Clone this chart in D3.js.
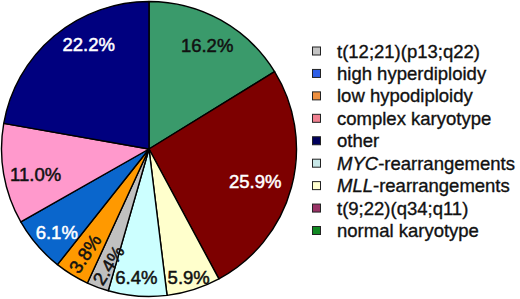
<!DOCTYPE html>
<html><head><meta charset="utf-8">
<script src="https://cdn.jsdelivr.net/npm/d3@7"></script>
<style>body{margin:0;background:#fff}svg{display:block}</style>
</head><body><svg id="c" width="520" height="299"></svg>
<script>
// Data (pie order, clockwise from 12 o'clock)
const sliceNames = ["normal karyotype","t(9;22)(q34;q11)","MLL-rearrangements","MYC-rearrangements","t(12;21)(p13;q22)","low hypodiploidy","high hyperdiploidy","complex karyotype","other"];
const sliceValues = [16.2, 25.9, 5.9, 6.4, 2.4, 3.8, 6.1, 11.0, 22.2];
const sliceLabels = ["16.2%","25.9%","5.9%","6.4%","2.4%","3.8%","6.1%","11.0%","22.2%"];
const sliceColors = ["#3a9a6b","#7d0000","#ffffcc","#ccffff","#c0c0c0","#ff9900","#0a66cc","#ff99cc","#00007f"];
const labelColors = ["#111","#fff","#111","#111","#111","#111","#fff","#111","#fff"];
// legend order
const legendNames = ["t(12;21)(p13;q22)","high hyperdiploidy","low hypodiploidy","complex karyotype","other","MYC-rearrangements","MLL-rearrangements","t(9;22)(q34;q11)","normal karyotype"];
const legendColors = ["#c4c4c4","#3060e8","#ee9040","#f08090","#00005c","#c8e8e8","#ffffd0","#993366","#118822"];
const legendItalic = [null,null,null,null,null,"MYC","MLL",null,null];
// label tweaks (offset from centroid, rotation)
const labelDx = [4,-1,6,-4,-2,-6,-8,-4,11];
const labelDy = [-7,4,23,18,12,10,11,6,-20];
const labelRot = [0,0,0,0,-58,-56,0,0,0];

const svg = d3.select("#c");
const cx = 149, cy = 149, R = 147.5;
const g = svg.append("g").attr("transform", `translate(${cx},${cy})`);
const pie = d3.pie().sort(null).value(d => d)(sliceValues);
const arc = d3.arc().innerRadius(0).outerRadius(R);
const labelArc = d3.arc().innerRadius(111).outerRadius(111);

g.selectAll("path").data(pie).join("path")
  .attr("d", arc).attr("fill", (d,i) => sliceColors[i])
  .attr("stroke", "#000").attr("stroke-width", 1.4).attr("stroke-linejoin","round");

g.selectAll("text.lbl").data(pie).join("text").attr("class","lbl")
  .attr("transform", (d,i) => {
    const [x,y] = labelArc.centroid(d);
    return `translate(${x+labelDx[i]},${y+labelDy[i]}) rotate(${labelRot[i]})`;
  })
  .attr("text-anchor","middle").attr("dy","0.36em")
  .attr("font-family","'Liberation Sans', Arial, sans-serif").attr("font-size",18.5)
  .attr("fill",(d,i)=>labelColors[i])
  .attr("stroke",(d,i)=>labelColors[i]).attr("stroke-width",0.5)
  .text((d,i)=>sliceLabels[i]);

const lg = svg.append("g");
const ly = d3.scaleLinear().domain([0, legendNames.length-1]).range([51, 230.5]);
legendNames.forEach((n,i) => {
  lg.append("rect").attr("x",312.5).attr("y",ly(i)-4).attr("width",8).attr("height",8)
    .attr("fill",legendColors[i]).attr("stroke","#222").attr("stroke-width",1);
  const t = lg.append("text").attr("x",337).attr("y",ly(i)+6.5)
    .attr("font-family","'Liberation Sans', Arial, sans-serif").attr("font-size",18.5)
    .attr("fill","#111").attr("stroke","#111").attr("stroke-width",0.35);
  if (legendItalic[i]) {
    t.append("tspan").attr("font-style","italic").text(legendItalic[i]);
    t.append("tspan").text(n.slice(legendItalic[i].length));
  } else t.text(n);
});
</script></body></html>
